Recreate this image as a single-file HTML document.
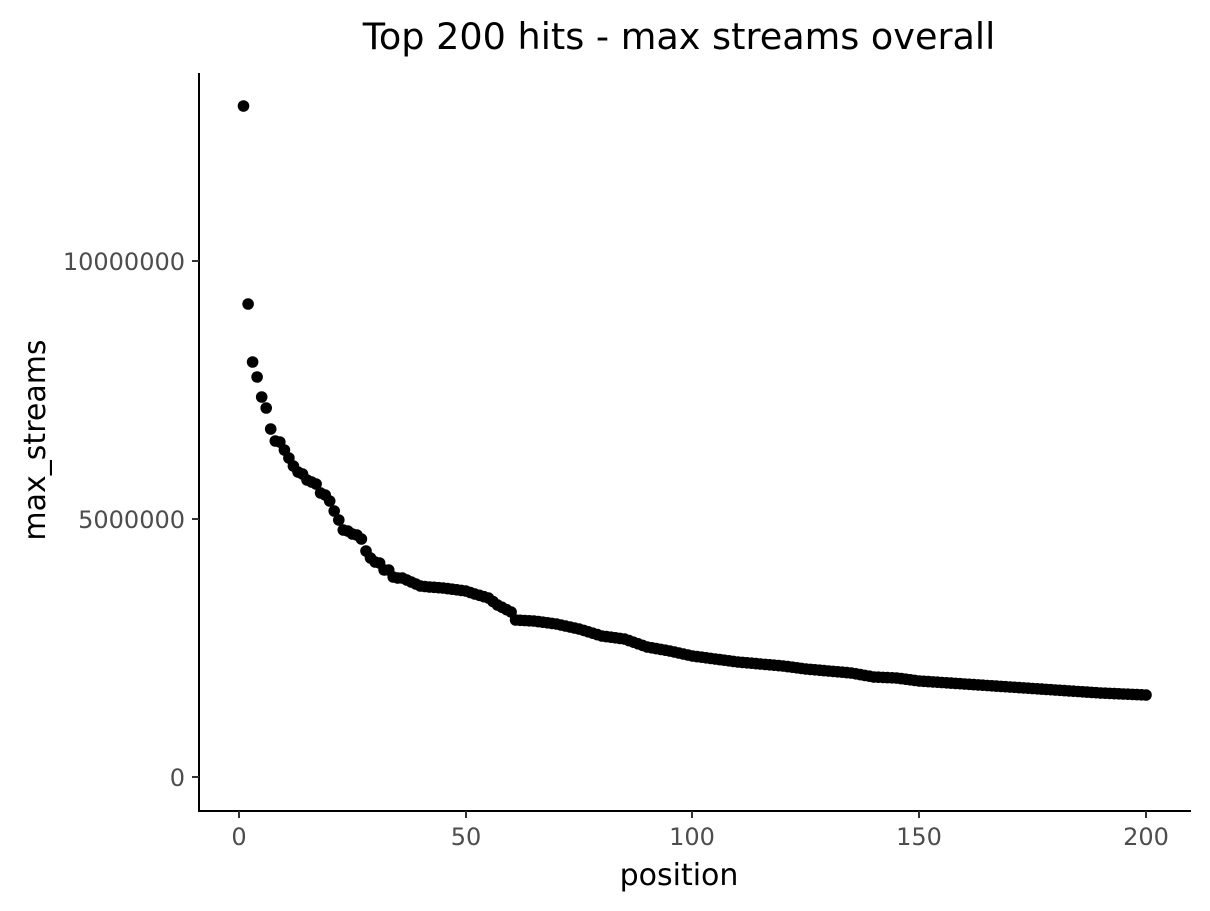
<!DOCTYPE html>
<html><head><meta charset="utf-8"><style>
html,body{margin:0;padding:0;background:#fff;}
svg{display:block;font-family:"DejaVu Sans","Liberation Sans",sans-serif;}
</style></head><body>
<svg id="s" width="1210" height="911" viewBox="0 0 1210 911">
<rect width="1210" height="911" fill="#fff"/>
<text x="679" y="49" font-size="36.6" text-anchor="middle" fill="#000">Top 200 hits - max streams overall</text>
<line x1="199" y1="73" x2="199" y2="812" stroke="#000" stroke-width="2"/>
<line x1="198" y1="811" x2="1191" y2="811" stroke="#000" stroke-width="2"/>
<g stroke="#333" stroke-width="2">
<line x1="192" y1="777" x2="199" y2="777"/><line x1="192" y1="519" x2="199" y2="519"/><line x1="192" y1="261" x2="199" y2="261"/>
<line x1="239" y1="811" x2="239" y2="818"/><line x1="466" y1="811" x2="466" y2="818"/><line x1="692" y1="811" x2="692" y2="818"/><line x1="919" y1="811" x2="919" y2="818"/><line x1="1146" y1="811" x2="1146" y2="818"/>
</g>
<g font-size="24" fill="#4d4d4d">
<text x="185" y="786" text-anchor="end">0</text>
<text x="185" y="528" text-anchor="end">5000000</text>
<text x="185" y="270" text-anchor="end">10000000</text>
<text x="239" y="845" text-anchor="middle">0</text>
<text x="466" y="845" text-anchor="middle">50</text>
<text x="692" y="845" text-anchor="middle">100</text>
<text x="919" y="845" text-anchor="middle">150</text>
<text x="1146" y="845" text-anchor="middle">200</text>
</g>
<text x="679" y="885" font-size="30" text-anchor="middle" fill="#000">position</text>
<text transform="translate(45,440) rotate(-90)" font-size="30" text-anchor="middle" fill="#000">max_streams</text>
<g id="pts" fill="#000"></g>
</svg>
<script>
var k=[[1,106],[2,304],[3,362],[4,377],[5,397],[6,408],[7,429],[8,441],[9,442],[10,450],[11,458],[12,466],[13,472],[14,474],[15,480],[16,482],[17,484],[18,493],[19,495],[20,501],[21,511],[22,520],[23,530],[24,531],[25,534],[26,535],[27,539],[28,551],[29,558],[30,562],[31,563],[32,570],[33,570],[34,577],[35,578],[36,578],[37,580],[38,582],[39,584],[40,586],[42,587],[45,588],[50,591],[52,594],[55,598],[57,605],[60,612],[61,620],[65,621],[70,624],[75,629],[80,636],[85,639],[90,647],[95,651],[100,656],[105,659],[110,662],[115,664],[120,666],[125,669],[130,671],[135,673],[140,677],[145,678],[150,681],[160,684],[170,687],[180,690],[190,693],[200,695]];
var g=document.getElementById('pts'),h='';
for(var p=1;p<=200;p++){var y;for(var i=0;i<k.length;i++){if(k[i][0]==p){y=k[i][1];break;}if(k[i][0]>p){var a=k[i-1],b=k[i];y=a[1]+(b[1]-a[1])*(p-a[0])/(b[0]-a[0]);break;}}
var x=239+(p)*4.535;h+='<circle cx="'+x.toFixed(1)+'" cy="'+y.toFixed(1)+'" r="5.8"/>';}
g.innerHTML=h;
</script>
</body></html>
